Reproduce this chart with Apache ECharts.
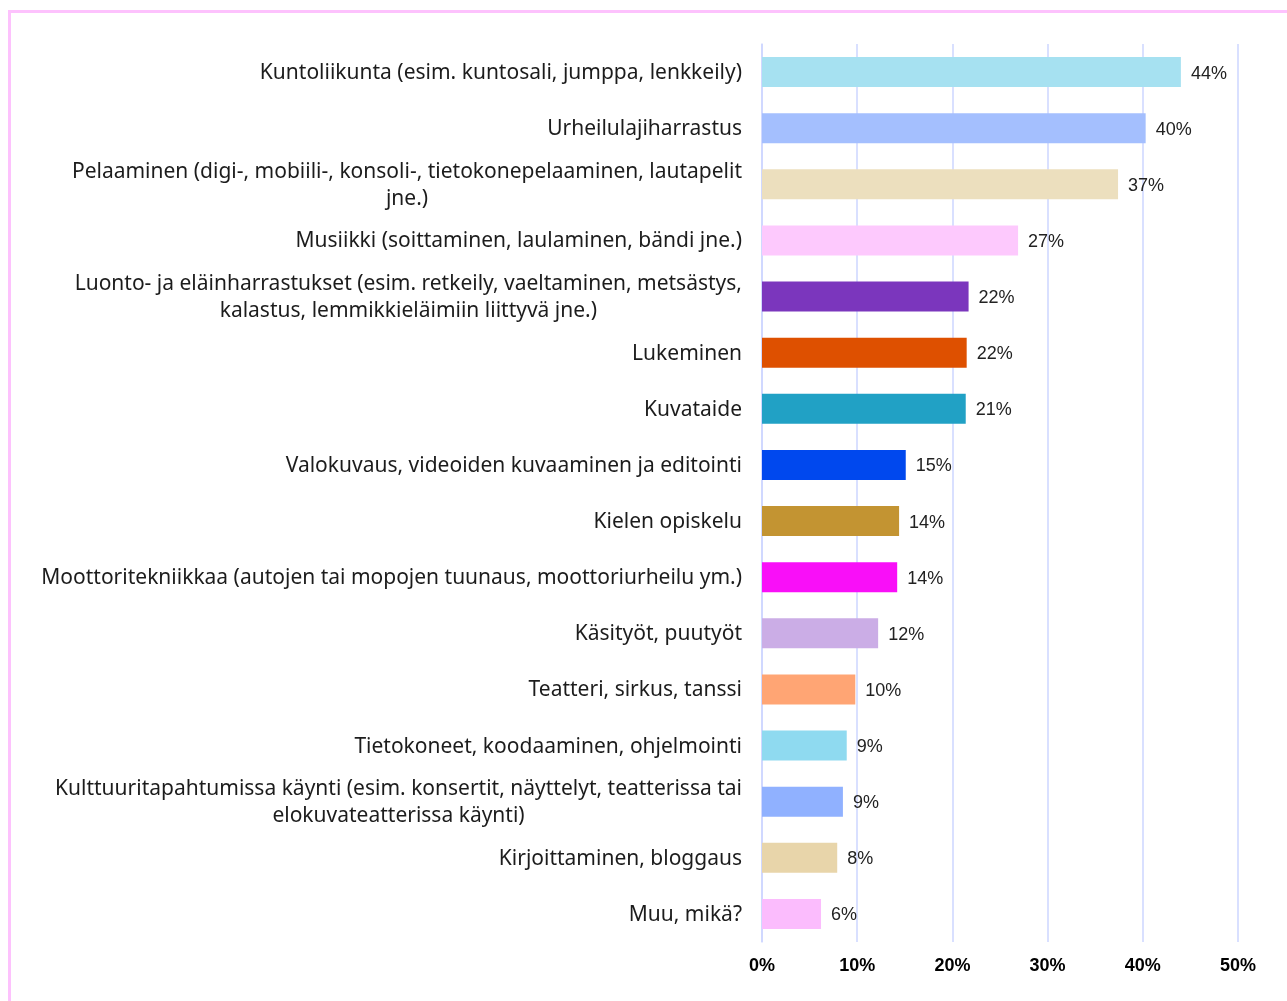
<!DOCTYPE html>
<html>
<head>
<meta charset="utf-8">
<script src="https://cdn.jsdelivr.net/npm/echarts@6/dist/echarts.min.js"></script>
<style>
  html, body { margin: 0; padding: 0; background: #fff; }
  #chart { width: 1287px; height: 1001px; }
  #frame {
    position: absolute; left: 8px; top: 10px; right: 0; bottom: 0;
    border-top: 3px solid #fdc2fd; border-left: 3px solid #fdc2fd;
    pointer-events: none;
  }
</style>
</head>
<body>
<div id="chart"></div>
<div id="frame"></div>
<script>
const categories = [
  'Kuntoliikunta (esim. kuntosali, jumppa, lenkkeily)',
  'Urheilulajiharrastus',
  'Pelaaminen (digi-, mobiili-, konsoli-, tietokonepelaaminen, lautapelit\njne.)',
  'Musiikki (soittaminen, laulaminen, bändi jne.)',
  'Luonto- ja eläinharrastukset (esim. retkeily, vaeltaminen, metsästys,\nkalastus, lemmikkieläimiin liittyvä jne.)',
  'Lukeminen',
  'Kuvataide',
  'Valokuvaus, videoiden kuvaaminen ja editointi',
  'Kielen opiskelu',
  'Moottoritekniikkaa (autojen tai mopojen tuunaus, moottoriurheilu ym.)',
  'Käsityöt, puutyöt',
  'Teatteri, sirkus, tanssi',
  'Tietokoneet, koodaaminen, ohjelmointi',
  'Kulttuuritapahtumissa käynti (esim. konsertit, näyttelyt, teatterissa tai\nelokuvateatterissa käynti)',
  'Kirjoittaminen, bloggaus',
  'Muu, mikä?'
]
const values = [44.0, 40.3, 37.4, 26.9, 21.7, 21.5, 21.4, 15.1, 14.4, 14.2, 12.2, 9.8, 8.9, 8.5, 7.9, 6.2]
const barColors = [
  '#a6e1f1', '#a4bffe', '#ecdfbe', '#fdc9fd', '#7b36bd', '#de5000',
  '#21a1c5', '#0048ee', '#c39432', '#f90ff8', '#cbade6', '#ffa574',
  '#8fdaf0', '#90b1ff', '#e8d5aa', '#fbbcfd'
]
const xTicks = [0, 10, 20, 30, 40, 50]

const chart = echarts.init(document.getElementById('chart'))
chart.setOption({
  backgroundColor: '#fff',
  animation: false,
  grid: {
    left: 762,
    right: 49,
    top: 44,
    bottom: 59
  },
  xAxis: {
    type: 'value',
    min: xTicks[0],
    max: xTicks[xTicks.length - 1],
    interval: 10,
    axisLine: { show: false },
    axisTick: { show: false },
    splitLine: { lineStyle: { color: '#cdd6ff', width: 1.5 } },
    axisLabel: {
      formatter: '{value}%',
      fontFamily: 'Liberation Sans',
      fontWeight: 'bold',
      fontSize: 18,
      color: '#000',
      margin: 15
    }
  },
  yAxis: {
    type: 'category',
    inverse: true,
    data: categories,
    axisLine: { show: true, lineStyle: { color: '#cdd6ff', width: 1.5 } },
    axisTick: { show: false },
    axisLabel: {
      margin: 20,
      color: '#1c1c1c',
      fontFamily: 'Noto Sans',
      fontSize: 21,
      lineHeight: 27,
      padding: [2, 0, 0, 0],
      formatter: (v) => '{c|' + v + '}',
      rich: {
        c: {
          align: 'center',
          fontFamily: 'Noto Sans',
          fontSize: 21,
          lineHeight: 27,
          color: '#1c1c1c'
        }
      }
    }
  },
  series: [{
    type: 'bar',
    barWidth: 30,
    data: values.map((v, i) => ({ value: v, itemStyle: { color: barColors[i] } })),
    label: {
      show: true,
      position: 'right',
      distance: 10,
      offset: [0, 1.5],
      formatter: (p) => Math.round(p.value) + '%',
      fontFamily: 'Liberation Sans',
      fontSize: 18,
      color: '#222'
    }
  }]
})
</script>
</body>
</html>
